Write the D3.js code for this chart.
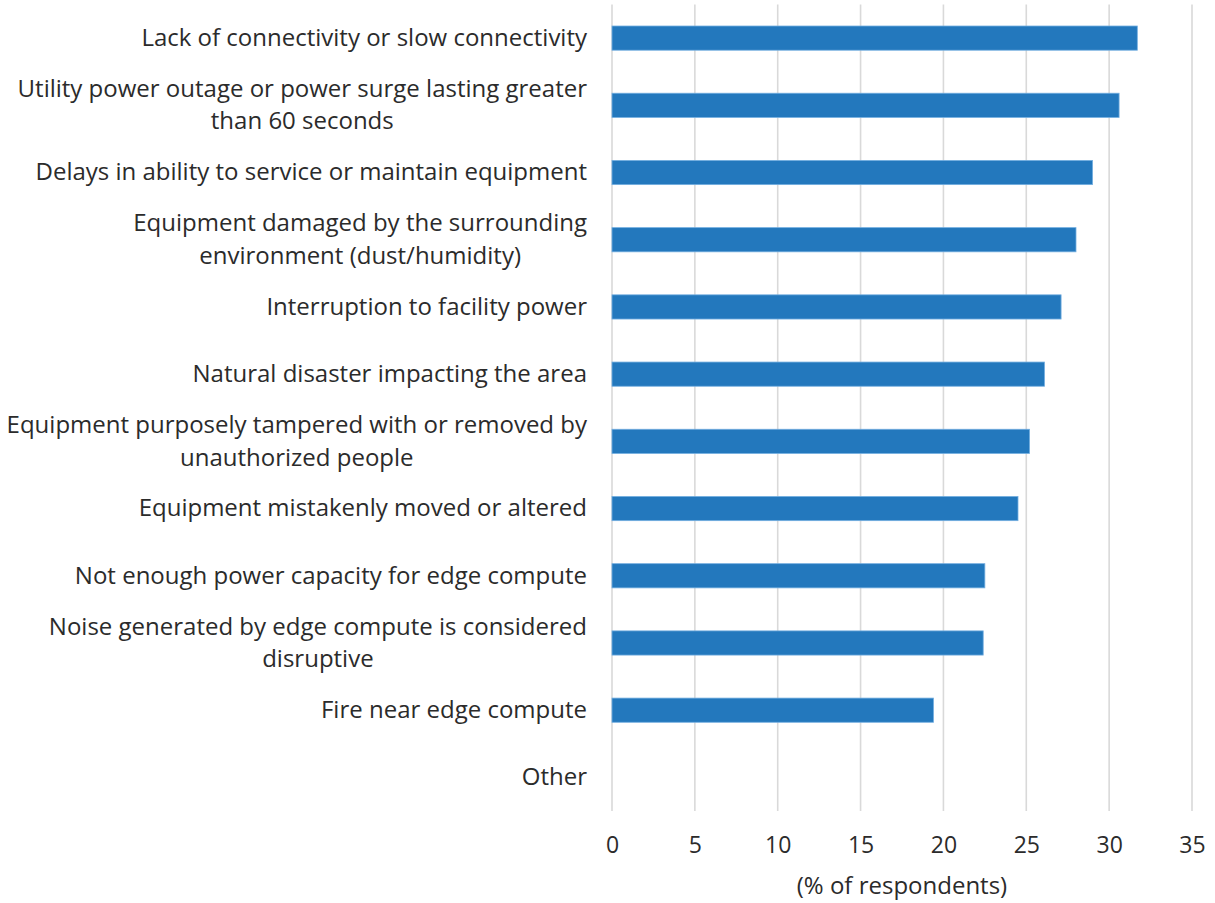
<!DOCTYPE html>
<html>
<head>
<meta charset="utf-8">
<script src="https://cdn.jsdelivr.net/npm/d3@7"></script>
<style>
  html, body { margin: 0; padding: 0; background: #ffffff; }
  svg { display: block; }
  text { font-family: "Open Sans", "Noto Sans", sans-serif; fill: #2b2b2b; }
</style>
</head>
<body>
<svg id="chart" width="1215" height="903"></svg>
<script>
// ---- data ----
const categories = [
  "Lack of connectivity or slow connectivity",
  "Utility power outage or power surge lasting greater\nthan 60 seconds",
  "Delays in ability to service or maintain equipment",
  "Equipment damaged by the surrounding\nenvironment (dust/humidity)",
  "Interruption to facility power",
  "Natural disaster impacting the area",
  "Equipment purposely tampered with or removed by\nunauthorized people",
  "Equipment mistakenly moved or altered",
  "Not enough power capacity for edge compute",
  "Noise generated by edge compute is considered\ndisruptive",
  "Fire near edge compute",
  "Other"
];
const values = [31.7, 30.6, 29.0, 28.0, 27.1, 26.1, 25.2, 24.5, 22.5, 22.4, 19.4, 0];
const xTicks = [0, 5, 10, 15, 20, 25, 30, 35];
const xTitle = "(% of respondents)";

// ---- layout ----
const svg = d3.select("#chart");
const plot = { left: 612, right: 1192, top: 4.5, bottom: 811 };

const x = d3.scaleLinear().domain([0, 35]).range([plot.left, plot.right]);
const y = d3.scaleBand().domain(categories).range([plot.top, plot.bottom])
  .paddingInner(0.64).paddingOuter(0.32);

// gridlines
svg.append("g").selectAll("line").data(xTicks).join("line")
  .attr("x1", d => x(d)).attr("x2", d => x(d))
  .attr("y1", plot.top).attr("y2", plot.bottom)
  .attr("stroke", "#d9d9d9").attr("stroke-width", 1.6);

// bars
svg.append("g").selectAll("rect").data(categories).join("rect")
  .attr("x", x(0))
  .attr("y", d => y(d))
  .attr("width", (d, i) => x(values[i]) - x(0))
  .attr("height", y.bandwidth())
  .attr("fill", "#2378bd")
  .attr("stroke", (d, i) => values[i] > 0 ? "#73aee0" : "none")
  .attr("stroke-width", 0.8);

// x axis (tick labels only)
const xAxis = d3.axisBottom(x).tickValues(xTicks).tickSize(0).tickPadding(0);
const gx = svg.append("g").attr("transform", `translate(0,${plot.bottom})`).call(xAxis);
gx.select(".domain").remove();
gx.selectAll("text")
  .attr("y", 42).attr("dy", null)
  .style("font-family", '"Open Sans", sans-serif')
  .style("font-size", "23px").attr("fill", "#2b2b2b");

svg.append("text")
  .attr("x", (plot.left + plot.right) / 2).attr("y", 894)
  .attr("text-anchor", "middle")
  .style("font-size", "24px")
  .text(xTitle);

// y labels (centered multi-line, right edge aligned)
const lineH = 32.5;
const labelRight = 587;
const lg = svg.append("g");
categories.forEach((c) => {
  const lines = c.split("\n");
  const cy = y(c) + y.bandwidth() / 2;
  const t = lg.append("text")
    .style("font-size", "24px")
    .attr("text-anchor", "end");
  lines.forEach((ln, k) => {
    t.append("tspan")
      .attr("x", labelRight)
      .attr("y", cy + (k - (lines.length - 1) / 2) * lineH)
      .attr("dy", "0.33em")
      .text(ln);
  });
  if (lines.length > 1) {
    const widths = t.selectAll("tspan").nodes().map(n => n.getComputedTextLength());
    const maxW = Math.max(...widths);
    const center = labelRight - maxW / 2;
    t.attr("text-anchor", "middle");
    t.selectAll("tspan").attr("x", center);
  }
});
</script>
</body>
</html>
